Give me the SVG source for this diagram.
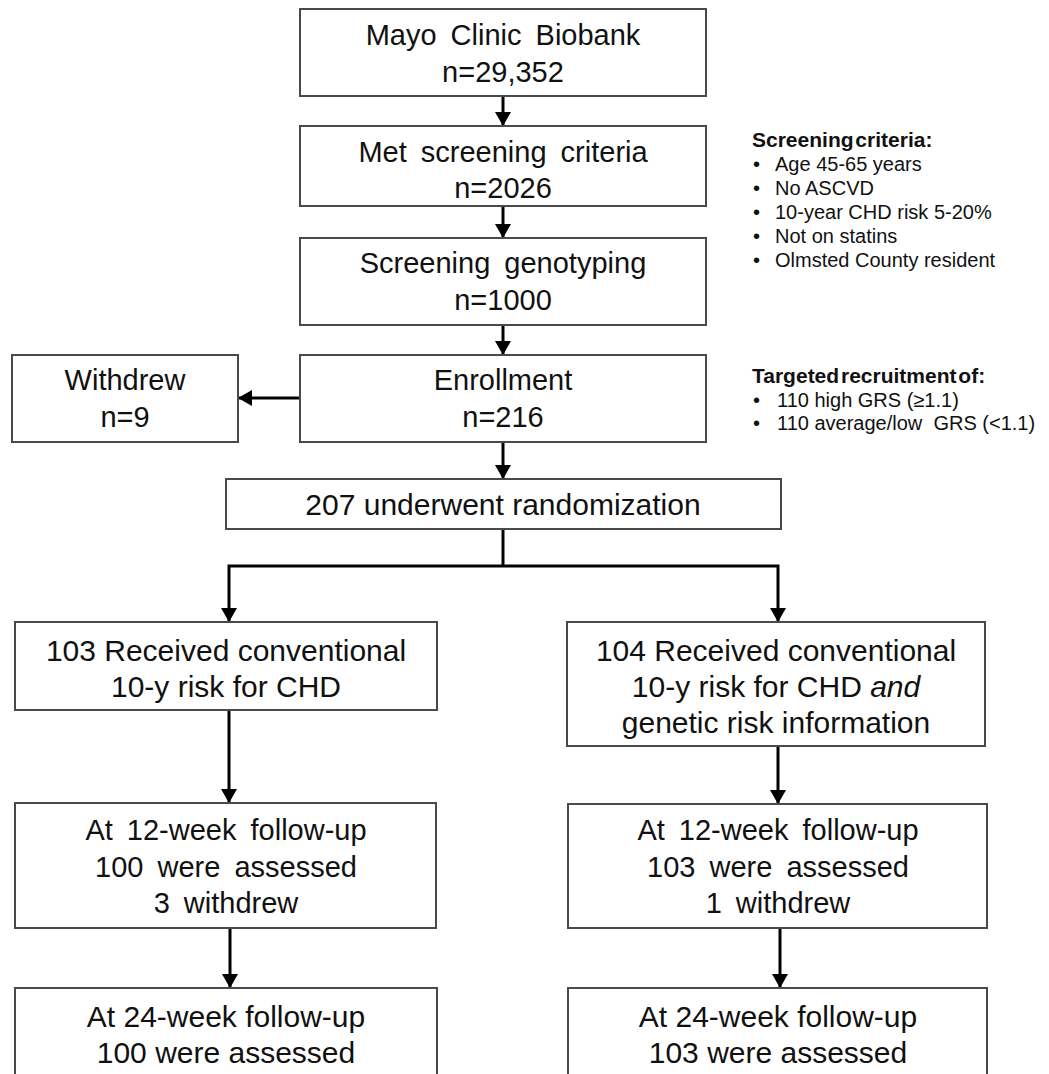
<svg xmlns="http://www.w3.org/2000/svg" width="1049" height="1074" viewBox="0 0 1049 1074">
<defs>
<style>
.box{fill:#fff;stroke:#4a4a4a;stroke-width:2}
.t{font-family:"Liberation Sans",Arial,sans-serif;font-size:29px;fill:#111;text-anchor:middle;word-spacing:6px}
.n{font-size:30px;word-spacing:0}
.side{font-family:"Liberation Sans",Arial,sans-serif;font-size:20px;fill:#111}
.hd{font-weight:bold;font-size:21px;word-spacing:-4px}
.ln{stroke:#000;stroke-width:3;fill:none}
.arr{marker-end:url(#ah)}
</style>
<marker id="ah" markerUnits="userSpaceOnUse" markerWidth="15" markerHeight="16" refX="14" refY="8" orient="auto">
<path d="M0,0 L14,8 L0,16 z" fill="#000"/>
</marker>
</defs>
<rect width="1049" height="1074" fill="#fff"/>

<g id="connectors">
<line class="ln arr" x1="503" y1="96" x2="503" y2="126"/>
<line class="ln arr" x1="503" y1="206" x2="503" y2="238"/>
<line class="ln arr" x1="503" y1="325" x2="503" y2="355"/>
<line class="ln arr" x1="300" y1="398" x2="238" y2="398"/>
<line class="ln arr" x1="503" y1="442" x2="503" y2="479"/>
<polyline class="ln" points="503,529 503,566"/>
<polyline class="ln arr" points="503,566 229,566 229,622"/>
<polyline class="ln arr" points="503,566 778,566 778,622"/>
<line class="ln arr" x1="229" y1="710" x2="229" y2="803"/>
<line class="ln arr" x1="778" y1="746" x2="778" y2="804"/>
<line class="ln arr" x1="230" y1="928" x2="230" y2="988"/>
<line class="ln arr" x1="780" y1="928" x2="780" y2="988"/>
</g>

<g id="mayo">
<rect class="box" x="300" y="9" width="406" height="87"/>
<text class="t" x="503" y="45">Mayo Clinic Biobank</text>
<text class="t" x="503" y="82">n=29,352</text>
</g>
<g id="met">
<rect class="box" x="300" y="126" width="406" height="80"/>
<text class="t" x="503" y="162">Met screening criteria</text>
<text class="t" x="503" y="198">n=2026</text>
</g>
<g id="geno">
<rect class="box" x="300" y="238" width="406" height="87"/>
<text class="t" x="503" y="273">Screening genotyping</text>
<text class="t" x="503" y="310">n=1000</text>
</g>
<g id="enroll">
<rect class="box" x="300" y="355" width="406" height="87"/>
<text class="t" x="503" y="390">Enrollment</text>
<text class="t" x="503" y="427">n=216</text>
</g>
<g id="withdrew">
<rect class="box" x="12" y="355" width="226" height="87"/>
<text class="t" x="125" y="390">Withdrew</text>
<text class="t" x="125" y="427">n=9</text>
</g>
<g id="randomization">
<rect class="box" x="226" y="479" width="555" height="50"/>
<text class="t n" x="503" y="515">207 underwent randomization</text>
</g>
<g id="groupA">
<rect class="box" x="15" y="622" width="422" height="88"/>
<text class="t n" x="226" y="661">103 Received conventional</text>
<text class="t n" x="226" y="697">10-y risk for CHD</text>
</g>
<g id="groupB">
<rect class="box" x="567" y="622" width="418" height="124"/>
<text class="t n" x="776" y="661">104 Received conventional</text>
<text class="t n" x="776" y="697">10-y risk for CHD <tspan font-style="italic">and</tspan></text>
<text class="t n" x="776" y="733">genetic risk information</text>
</g>
<g id="fu12A">
<rect class="box" x="15" y="803" width="421" height="125"/>
<text class="t" x="226" y="840">At 12-week follow-up</text>
<text class="t" x="226" y="877">100 were assessed</text>
<text class="t" x="226" y="913">3 withdrew</text>
</g>
<g id="fu12B">
<rect class="box" x="568" y="804" width="419" height="124"/>
<text class="t" x="778" y="840">At 12-week follow-up</text>
<text class="t" x="778" y="877">103 were assessed</text>
<text class="t" x="778" y="913">1 withdrew</text>
</g>
<g id="fu24A">
<rect class="box" x="15" y="988" width="422" height="110"/>
<text class="t n" x="226" y="1027">At 24-week follow-up</text>
<text class="t n" x="226" y="1063">100 were assessed</text>
</g>
<g id="fu24B">
<rect class="box" x="568" y="988" width="419" height="110"/>
<text class="t n" x="778" y="1027">At 24-week follow-up</text>
<text class="t n" x="778" y="1063">103 were assessed</text>
</g>

<g id="screening-criteria" class="side">
<text class="hd" x="752" y="147">Screening criteria:</text>
<text x="753" y="171">•</text><text x="775" y="171">Age 45-65 years</text>
<text x="753" y="195">•</text><text x="775" y="195">No ASCVD</text>
<text x="753" y="219">•</text><text x="775" y="219">10-year CHD risk 5-20%</text>
<text x="753" y="243">•</text><text x="775" y="243">Not on statins</text>
<text x="753" y="267">•</text><text x="775" y="267">Olmsted County resident</text>
</g>
<g id="targeted-recruitment" class="side">
<text class="hd" x="752" y="383">Targeted recruitment of:</text>
<text x="753" y="407">•</text><text x="777" y="407">110 high GRS (≥1.1)</text>
<text x="753" y="430">•</text><text x="777" y="430" xml:space="preserve">110 average/low  GRS (&lt;1.1)</text>
</g>
</svg>
